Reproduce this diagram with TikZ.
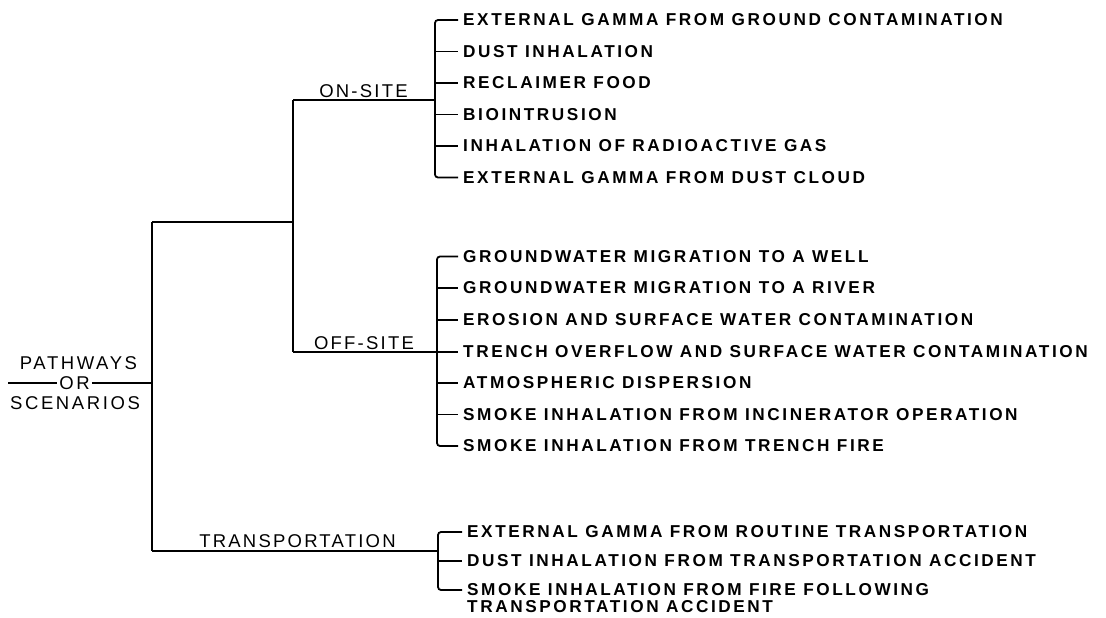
\documentclass[tikz,border=0pt]{standalone}
\usepackage{fontspec}
\setmainfont{Liberation Sans}
\newfontfamily\itemfont[LetterSpace=15]{Liberation Sans}
\newfontfamily\lblfont[LetterSpace=12]{Liberation Sans}
\newfontfamily\rootfont[LetterSpace=14]{Liberation Sans}
\begin{document}
\begin{tikzpicture}[x=1pt,y=-1pt,
  ln/.style={line width=1.8pt, line cap=butt},
  brk/.style={line width=1.8pt, rounded corners=3pt},
  itm/.style={anchor=west, inner sep=0pt, font=\itemfont\bfseries\fontsize{17.2}{18}\selectfont},
  lbl/.style={anchor=base, inner sep=0pt, font=\lblfont\fontsize{18.5}{20}\selectfont},
  rt/.style={anchor=center, inner sep=0pt, font=\rootfont\fontsize{18.5}{20}\selectfont}]
\useasboundingbox (0,0) rectangle (1106,618);
\fill[white] (0,0) rectangle (1106,618);

% root
\node[rt] (pw) at (78.5,363) {PATHWAYS};
\node[rt] (or) at (74.5,383) {OR};
\node[rt] (sc) at (75,403) {SCENARIOS};
\coordinate (rootL) at (8,383);
\coordinate (jRoot) at (152,383);
\coordinate (mTop) at (152,222);
\coordinate (mBot) at (152,551);
\coordinate (uMid) at (293,222);
\coordinate (uTop) at (293,100);
\coordinate (uBot) at (293,352);
\coordinate (bOn) at (435,100);
\coordinate (bOff) at (437,352);
\coordinate (bTr) at (438,551);

\draw[ln] (rootL) -- ([xshift=-2pt]or.west);
\draw[ln] ([xshift=2pt]or.east) -- (jRoot);
\draw[ln] (mTop) -- (mBot);
\draw[ln] (mTop) -- (uMid);
\draw[ln] (uTop) -- (uBot);
\draw[ln] (uTop) -- (bOn);
\draw[ln] (uBot) -- (bOff);
\draw[ln] (mBot) -- (bTr);

% branch labels
\node[lbl] (on) at (363.5,97) {ON-SITE};
\node[lbl] (off) at (364,349) {OFF-SITE};
\node[lbl] (tr) at (297.5,547) {TRANSPORTATION};

% on-site items
\node[itm] (a1) at (463,20) {EXTERNAL GAMMA FROM GROUND CONTAMINATION};
\node[itm] (a2) at (463,51.5) {DUST INHALATION};
\node[itm] (a3) at (463,83) {RECLAIMER FOOD};
\node[itm] (a4) at (463,114.5) {BIOINTRUSION};
\node[itm] (a5) at (463,146) {INHALATION OF RADIOACTIVE GAS};
\node[itm] (a6) at (463,177.5) {EXTERNAL GAMMA FROM DUST CLOUD};
\draw[brk] ([xshift=-5pt]a1.west) -| (bOn) |- ([xshift=-5pt]a6.west);
\foreach \n in {a2,a3,a4,a5} \draw[ln] (\n.west -| bOn) -- ([xshift=-5pt]\n.west);

% off-site items
\node[itm] (b1) at (463,256.5) {GROUNDWATER MIGRATION TO A WELL};
\node[itm] (b2) at (463,288) {GROUNDWATER MIGRATION TO A RIVER};
\node[itm] (b3) at (463,320) {EROSION AND SURFACE WATER CONTAMINATION};
\node[itm] (b4) at (463,352) {TRENCH OVERFLOW AND SURFACE WATER CONTAMINATION};
\node[itm] (b5) at (463,383) {ATMOSPHERIC DISPERSION};
\node[itm] (b6) at (463,414.5) {SMOKE INHALATION FROM INCINERATOR OPERATION};
\node[itm] (b7) at (463,446) {SMOKE INHALATION FROM TRENCH FIRE};
\draw[brk] ([xshift=-5pt]b1.west) -| (bOff) |- ([xshift=-5pt]b7.west);
\foreach \n in {b2,b3,b4,b5,b6} \draw[ln] (\n.west -| bOff) -- ([xshift=-5pt]\n.west);

% transportation items
\node[itm] (c1) at (467,532) {EXTERNAL GAMMA FROM ROUTINE TRANSPORTATION};
\node[itm] (c2) at (467,561) {DUST INHALATION FROM TRANSPORTATION ACCIDENT};
\node[itm] (c3) at (467,590) {SMOKE INHALATION FROM FIRE FOLLOWING};
\node[itm] (c3b) at (467,607) {TRANSPORTATION ACCIDENT};
\draw[brk] ([xshift=-5pt]c1.west) -| (bTr) |- ([xshift=-5pt]c3.west);
\draw[ln] (c2.west -| bTr) -- ([xshift=-5pt]c2.west);
\end{tikzpicture}
\end{document}
